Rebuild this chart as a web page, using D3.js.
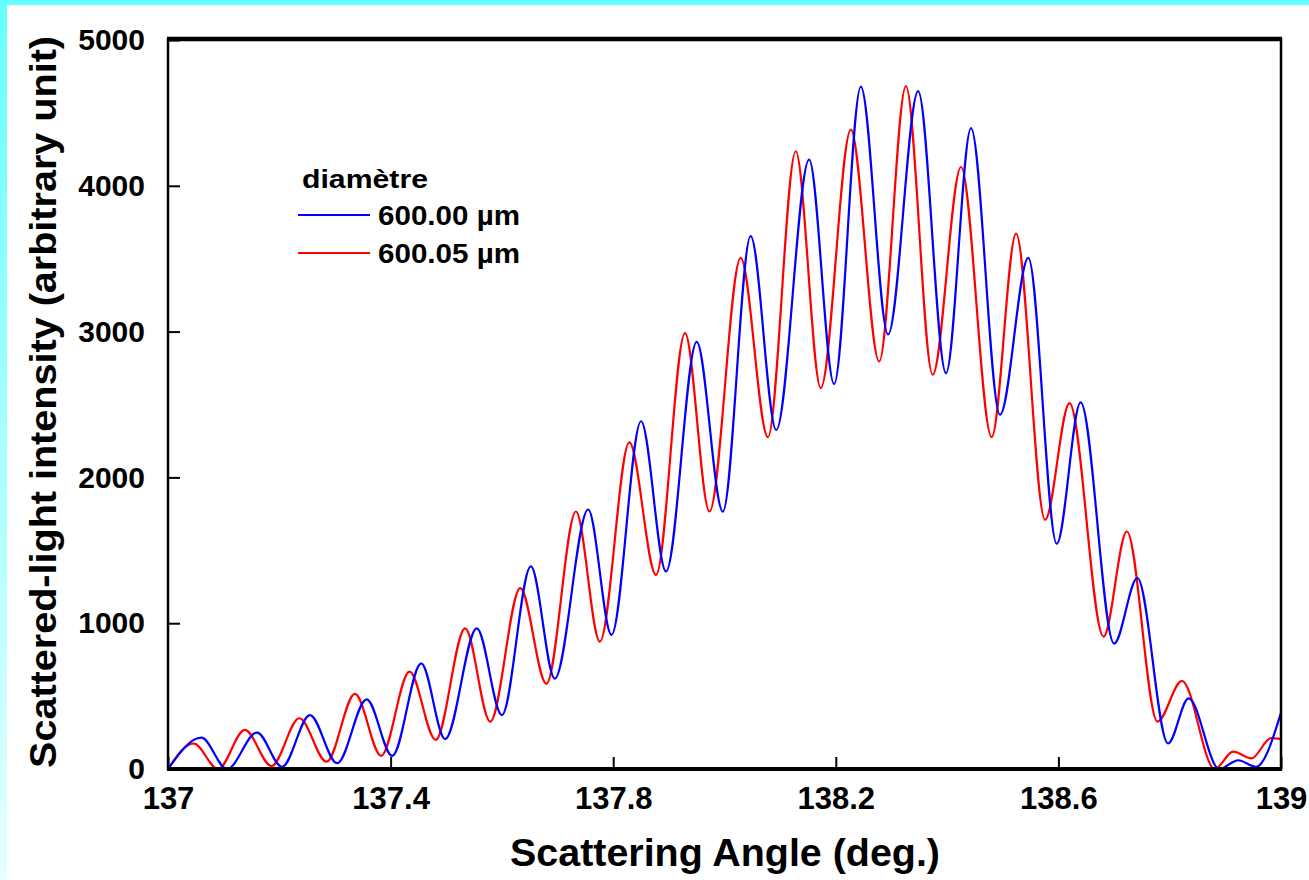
<!DOCTYPE html>
<html>
<head>
<meta charset="utf-8">
<script src="https://cdn.jsdelivr.net/npm/d3@7"></script>
<style>
    html, body { margin: 0; padding: 0; background: #fff; }
    svg { display: block; }
    text { font-family: "Liberation Sans", Arial, sans-serif; font-weight: bold; fill: #000; }
</style>
</head>
<body>
<svg id="chart" width="1309" height="880"></svg>
<script>
// Angles (deg.) and intensities, peaks and troughs
const anglesBlue = [137.000, 137.060, 137.106, 137.160, 137.205, 137.255, 137.304, 137.357, 137.403, 137.455,
    137.498, 137.555, 137.600, 137.652, 137.695, 137.755, 137.797, 137.850, 137.895, 137.950,
    137.997, 138.047, 138.093, 138.152, 138.197, 138.245, 138.294, 138.348, 138.398, 138.443,
    138.495, 138.546, 138.597, 138.640, 138.700, 138.742, 138.797, 138.834, 138.889, 138.923,
    138.955, 139.000];
const valuesBlue = [0, 215, 0, 250, 15, 370, 40, 478, 90, 725,
    205, 965, 370, 1390, 620, 1780, 920, 2385, 1355, 2930,
    1765, 3655, 2325, 4180, 2640, 4680, 2980, 4650, 2715, 4395,
    2430, 3505, 1545, 2515, 860, 1310, 175, 485, 0, 60,
    15, 385];

const anglesRed = [137.000, 137.046, 137.090, 137.138, 137.186, 137.236, 137.285, 137.336, 137.383, 137.434,
    137.481, 137.534, 137.579, 137.633, 137.680, 137.733, 137.776, 137.829, 137.877, 137.929,
    137.973, 138.029, 138.078, 138.128, 138.173, 138.227, 138.278, 138.326, 138.374, 138.425,
    138.480, 138.524, 138.576, 138.620, 138.681, 138.723, 138.778, 138.822, 138.881, 138.914,
    138.947, 138.982, 139.000];
const valuesRed = [0, 175, 0, 268, 20, 348, 50, 515, 90, 668,
    200, 965, 325, 1240, 585, 1766, 874, 2240, 1331, 2990,
    1766, 3505, 2276, 4237, 2613, 4385, 2795, 4683, 2704, 4129,
    2276, 3672, 1709, 2510, 908, 1629, 325, 604, 0, 119,
    73, 212, 205];

const seriesNames = ['600.00 µm', '600.05 µm'];
const legendTitle = 'diamètre';
const xTicks = [137, 137.4, 137.8, 138.2, 138.6, 139];
const yTicks = [0, 1000, 2000, 3000, 4000, 5000];
const xTitle = 'Scattering Angle (deg.)';
const yTitle = 'Scattered-light intensity (arbitrary unit)';

function ScatterChart(element) {
    this.element = element;

    this.config = {
        width: 1309,
        height: 880,
        left: 168,
        right: 1281,
        top: 40,
        bottom: 769,

        xMin: 137,
        xMax: 139,
        yMin: 0,
        yMax: 5000,

        xMinorStep: 0.08,
        yMinorStep: 200,

        colors: ['#0000ff', '#ff0000'],
        lineWidth: 2.2
    };

    this.init = function () {
        this.element.innerHTML = '';
        this.setup();
    };

    this.setup = function () {
        let me = this;
        let c = me.config;

        me.svg = d3.select(me.element);

        // cyan frame on top and left
        let defs = me.svg.append('defs');
        let grad = defs.append('linearGradient')
            .attr('id', 'leftStrip')
            .attr('x1', 0).attr('y1', 0).attr('x2', 0).attr('y2', 1);
        grad.append('stop').attr('offset', '0%').attr('stop-color', '#66ffff');
        grad.append('stop').attr('offset', '100%').attr('stop-color', '#e6ffff');

        defs.append('clipPath').attr('id', 'plotClip')
            .append('rect')
            .attr('x', c.left).attr('y', c.top - 2)
            .attr('width', c.right - c.left).attr('height', c.bottom - c.top + 2);

        me.svg.append('rect').attr('x', 0).attr('y', 0)
            .attr('width', 7).attr('height', c.height).attr('fill', 'url(#leftStrip)');
        me.svg.append('rect').attr('x', 0).attr('y', 0)
            .attr('width', c.width).attr('height', 5).attr('fill', '#66ffff');

        let x = d3.scaleLinear().domain([c.xMin, c.xMax]).range([c.left, c.right]);
        let y = d3.scaleLinear().domain([c.yMin, c.yMax]).range([c.bottom, c.top]);

        let xMinor = d3.range(c.xMin, c.xMax + 1e-9, c.xMinorStep)
            .filter(v => !xTicks.some(t => Math.abs(t - v) < 1e-6));
        let yMinor = d3.range(c.yMin, c.yMax + 1, c.yMinorStep)
            .filter(v => yTicks.indexOf(v) < 0);

        // axes with inward ticks
        let gx = me.svg.append('g').attr('transform', 'translate(0,' + c.bottom + ')');
        gx.call(d3.axisBottom(x).tickValues(xMinor).tickSize(-6).tickFormat(''));
        gx.call(d3.axisBottom(x).tickValues(xTicks).tickSize(-12).tickPadding(18)
            .tickFormat(d3.format('')));
        gx.selectAll('.domain').remove();
        gx.selectAll('line').attr('stroke', '#000').attr('stroke-width', 2);
        gx.selectAll('text').style('font-size', '31px');

        let gy = me.svg.append('g').attr('transform', 'translate(' + c.left + ',0)');
        gy.call(d3.axisLeft(y).tickValues(yMinor).tickSize(-6).tickFormat(''));
        gy.call(d3.axisLeft(y).tickValues(yTicks).tickSize(-12).tickPadding(23)
            .tickFormat(d3.format('d')));
        gy.selectAll('.domain').remove();
        gy.selectAll('line').attr('stroke', '#000').attr('stroke-width', 2);
        gy.selectAll('text').style('font-size', '30px');

        // curves
        let line = d3.line()
            .x(d => x(d[0]))
            .y(d => y(d[1]))
            .curve(d3.curveMonotoneX);

        let data = [
            d3.zip(anglesRed, valuesRed),
            d3.zip(anglesBlue, valuesBlue)
        ];
        let lineColors = [c.colors[1], c.colors[0]];

        me.svg.append('g').attr('clip-path', 'url(#plotClip)')
            .selectAll('path')
            .data(data)
            .enter().append('path')
            .attr('d', line)
            .attr('fill', 'none')
            .attr('stroke', (d, i) => lineColors[i])
            .attr('stroke-width', c.lineWidth)
            .attr('stroke-linejoin', 'round');

        // plot frame
        let frame = me.svg.append('g').attr('stroke', '#000').attr('fill', 'none');
        frame.append('line').attr('x1', c.left - 1).attr('x2', c.right + 1)
            .attr('y1', c.top - 1).attr('y2', c.top - 1).attr('stroke-width', 4.5);
        frame.append('line').attr('x1', c.left - 1).attr('x2', c.right + 1)
            .attr('y1', c.bottom).attr('y2', c.bottom).attr('stroke-width', 4);
        frame.append('line').attr('x1', c.left).attr('x2', c.left)
            .attr('y1', c.top - 2).attr('y2', c.bottom + 1).attr('stroke-width', 2.5);
        frame.append('line').attr('x1', c.right).attr('x2', c.right)
            .attr('y1', c.top - 2).attr('y2', c.bottom + 1).attr('stroke-width', 2.5);

        // titles
        me.svg.append('text')
            .attr('x', 725).attr('y', 866)
            .attr('text-anchor', 'middle')
            .attr('textLength', 430).attr('lengthAdjust', 'spacingAndGlyphs')
            .style('font-size', '38px')
            .text(xTitle);

        me.svg.append('text')
            .attr('transform', 'translate(56,402) rotate(-90)')
            .attr('text-anchor', 'middle')
            .attr('textLength', 732).attr('lengthAdjust', 'spacingAndGlyphs')
            .style('font-size', '36px')
            .text(yTitle);

        // legend
        let lg = me.svg.append('g');
        lg.append('text')
            .attr('x', 302).attr('y', 188)
            .attr('textLength', 126).attr('lengthAdjust', 'spacingAndGlyphs')
            .style('font-size', '26px')
            .text(legendTitle);

        seriesNames.forEach((name, i) => {
            let ly = 215 + i * 38;
            lg.append('line')
                .attr('x1', 298).attr('x2', 370)
                .attr('y1', ly).attr('y2', ly)
                .attr('stroke', c.colors[i])
                .attr('stroke-width', 2);
            lg.append('text')
                .attr('x', 378).attr('y', ly + 10)
                .attr('textLength', 142).attr('lengthAdjust', 'spacingAndGlyphs')
                .style('font-size', '28px')
                .text(name);
        });
    };

    this.init();
}

new ScatterChart(document.getElementById('chart'));
</script>
</body>
</html>
